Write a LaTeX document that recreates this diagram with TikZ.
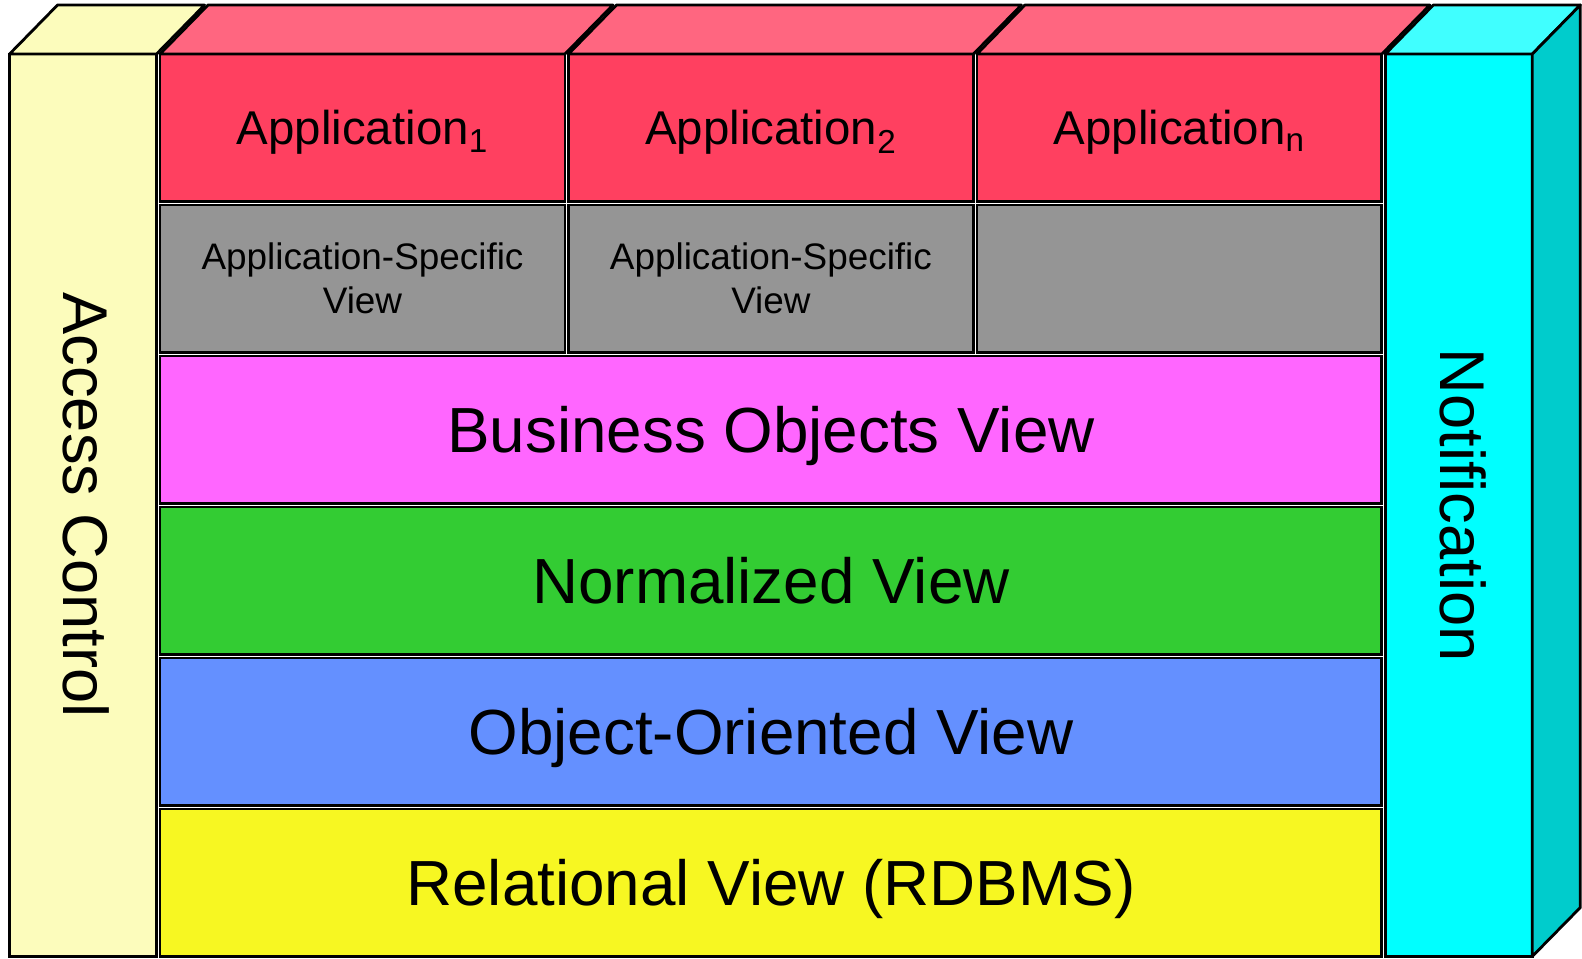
\documentclass[tikz,border=0pt]{standalone}
\usepackage{fontspec}
\setmainfont{Liberation Sans}
\usepackage{tikz}
\usetikzlibrary{calc,positioning}
\definecolor{accfill}{HTML}{FCFCBC}
\definecolor{appfill}{HTML}{FF4060}
\definecolor{apptop}{HTML}{FF6680}
\definecolor{asvfill}{HTML}{959595}
\definecolor{bofill}{HTML}{FF66FF}
\definecolor{nvfill}{HTML}{33CC33}
\definecolor{oofill}{HTML}{6490FF}
\definecolor{rvfill}{HTML}{F7F722}
\definecolor{notefill}{HTML}{00FFFF}
\definecolor{notetop}{HTML}{40FFFF}
\definecolor{noteside}{HTML}{00CCCC}
\tikzset{
    node distance =2pt and 2pt,
    box/.style ={rectangle, draw, line width=1.6pt, outer sep=0pt, inner sep=0pt},
    app/.style ={box, fill=appfill, minimum width=8.1cm, minimum height=2.95cm, text depth=0pt, font=\fontsize{27}{32}\selectfont},
    asv/.style ={box, fill=asvfill, minimum width=8.1cm, minimum height=2.95cm, align=center, font=\fontsize{21}{25}\selectfont},
    layer/.style ={box, minimum width=24.44cm, minimum height=2.95cm, text depth=0pt, font=\fontsize{36.3}{43}\selectfont},
    side/.style ={box, minimum width=2.94cm, minimum height=18.05cm},
    face/.style ={draw, line width=1.6pt, line join=round},
    vlabel/.style ={rotate=-90, inner sep=0pt, font=\fontsize{36}{43}\selectfont}
}
\begin{document}
\begin{tikzpicture}[x=0.02cm, y=-0.02cm]
    \useasboundingbox (0,0) rectangle (1582,958);

    %%Nodes
    \node[app] (app1) at (362.5,127.75) {Application\textsubscript{1}};
    \node[app] (app2) [right =of app1] {Application\textsubscript{2}};
    \node[app] (app3) [right =of app2] {Application\textsubscript{n}};
    \node[asv] (asv1) [below =of app1] {Application-Specific\\View};
    \node[asv] (asv2) [below =of app2] {Application-Specific\\View};
    \node[asv] (asv3) [below =of app3] {};

    %%Layers
    \node[layer, fill=bofill] (bov) [below =of asv2] {Business Objects View};
    \node[layer, fill=nvfill] (nv) [below =of bov] {Normalized View};
    \node[layer, fill=oofill] (oov) [below =of nv] {Object-Oriented View};
    \node[layer, fill=rvfill] (rv) [below =of oov] {Relational View (RDBMS)};

    %%Sides
    \node[side, fill=accfill] (acc) [left =of app1.north west, anchor=north east] {};
    \node[side, fill=notefill] (note) [right =of app3.north east, anchor=north west] {};
    \node[vlabel] (acclbl) at ($(acc.center)+(3,0)$) {Access Control};
    \node[vlabel] (notelbl) at ($(note.center)+(4,0)$) {Notification};

    % Top faces
    \foreach \n/\c in {acc/accfill, app1/apptop, app2/apptop, app3/apptop, note/notetop}
        \draw[face, fill=\c] (\n.north west) -- ++(48,-49) -- ($(\n.north east)+(48,-49)$) -- (\n.north east) -- cycle;
    \draw[face, fill=noteside] (note.north east) -- ++(48,-49) -- ++(0,902.5) -- (note.south east) -- cycle;
\end{tikzpicture}
\end{document}
